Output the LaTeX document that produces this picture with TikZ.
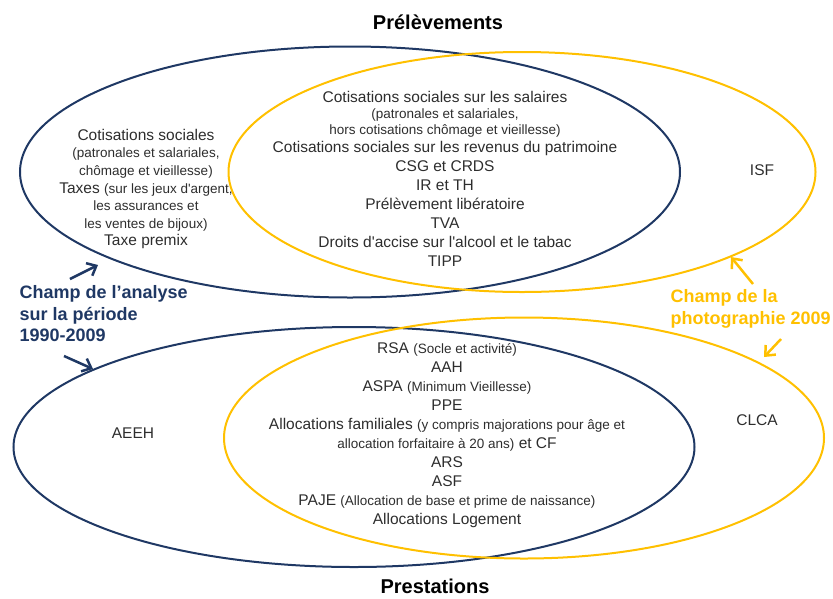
\documentclass[tikz,border=0pt]{standalone}
\usepackage{fontspec}
\setmainfont{Liberation Sans}[Ligatures=TeXOff]
\usetikzlibrary{shapes.geometric,arrows.meta}
\definecolor{navy}{RGB}{31,56,100}
\definecolor{gold}{RGB}{255,192,0}
\definecolor{txt}{RGB}{45,45,45}
\newcommand{\petit}{\fontsize{13.5}{16}\selectfont}
\begin{document}
\begin{tikzpicture}[x=1pt, y=-1pt,
    bluestyle/.style={ellipse, draw=navy, line width=2pt, inner sep=0pt},
    yellowstyle/.style={ellipse, draw=gold, line width=2pt, inner sep=0pt},
    textstyle/.style={align=center, text=txt, font=\fontsize{15.5}{19}\selectfont},
    titlestyle/.style={font=\fontsize{20}{24}\selectfont\bfseries},
    labelstyle/.style={align=left, anchor=west, font=\fontsize{18}{21.5}\selectfont\bfseries},
    arrowstyle/.style={-{Straight Barb[length=8pt,width=14pt]}, line width=2.5pt}]
    \useasboundingbox (0,0) rectangle (833,598);
    % Ensembles
    \node[bluestyle, minimum width=660pt, minimum height=251pt] (prelblue) at (350,172) {};
    \node[yellowstyle, minimum width=587pt, minimum height=240pt] (prelyellow) at (522,172) {};
    \node[bluestyle, minimum width=681pt, minimum height=240pt] (prestblue) at (354,447) {};
    \node[yellowstyle, minimum width=600pt, minimum height=241pt] (prestyellow) at (524,438) {};

    % Titres
    \node[titlestyle] (prelev) at (438,22) {Prélèvements};
    \node[titlestyle] (prest) at (435,586) {Prestations};
    %%%
    % Prelevements
    \node[textstyle, font=\fontsize{15.5}{17.6}\selectfont] (prelleft) at (146,189) {Cotisations sociales\\
        {\petit (patronales et salariales,}\\
        {\petit chômage et vieillesse)}\\
        Taxes {\petit (sur les jeux d'argent,}\\
        {\petit les assurances et}\\
        {\petit les ventes de bijoux)}\\
        Taxe premix};
    \node[textstyle] (prelmid) at (445,179) {Cotisations sociales sur les salaires\\[-3pt]
        {\petit (patronales et salariales,}\\[-3pt]
        {\petit hors cotisations chômage et vieillesse)}\\[-1pt]
        Cotisations sociales sur les revenus du patrimoine\\
        CSG et CRDS\\
        IR et TH\\
        Prélèvement libératoire\\
        TVA\\
        Droits d'accise sur l'alcool et le tabac\\
        TIPP};
    \node[textstyle] (isf) at (762,170) {ISF};
    %%%
    % Prestations
    \node[textstyle] (aeeh) at (133,433) {AEEH};
    \node[textstyle] (prestmid) at (447,435) {RSA {\petit (Socle et activité)}\\
        AAH\\
        ASPA {\petit (Minimum Vieillesse)}\\
        PPE\\
        Allocations familiales {\petit (y compris majorations pour âge et}\\
        {\petit allocation forfaitaire à 20 ans)} et CF\\
        ARS\\
        ASF\\
        PAJE {\petit (Allocation de base et prime de naissance)}\\
        Allocations Logement};
    \node[textstyle] (clca) at (757,420) {CLCA};
    %%%
    % Champs
    \node[labelstyle, text=navy] (champblue) at (16,314) {Champ de l’analyse\\sur la période\\1990-2009};
    \node[labelstyle, text=gold] (champyellow) at (667,309) {Champ de la\\photographie 2009};

    \coordinate (b1s) at (70,279);
    \coordinate (b1e) at (98,265);
    \coordinate (b2s) at (64,356);
    \coordinate (b2e) at (93,369);
    \coordinate (y1s) at (753,284);
    \coordinate (y1e) at (731,257);
    \coordinate (y2s) at (781,339);
    \coordinate (y2e) at (764,357);
    \draw[arrowstyle, navy] (b1s) -- (b1e);
    \draw[arrowstyle, navy] (b2s) -- (b2e);
    \draw[arrowstyle, gold] (y1s) -- (y1e);
    \draw[arrowstyle, gold] (y2s) -- (y2e);
    %%%
\end{tikzpicture}
\end{document}
